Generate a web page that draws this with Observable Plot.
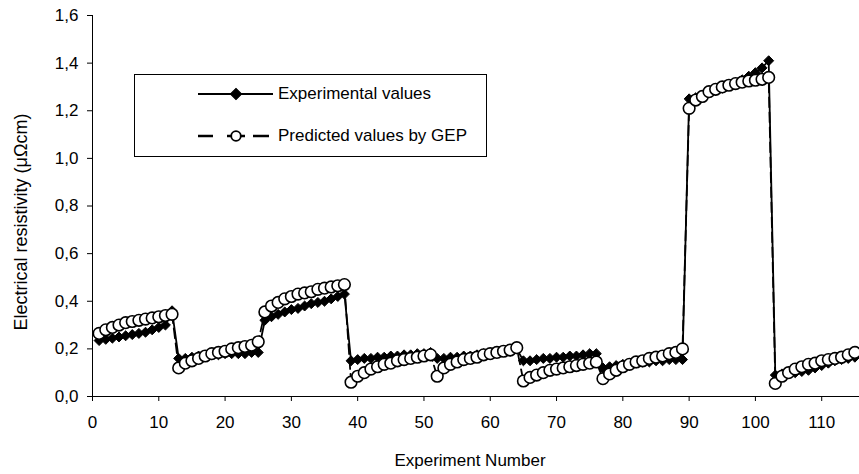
<!DOCTYPE html>
<html><head><meta charset="utf-8">
<script src="https://cdn.jsdelivr.net/npm/d3@7"></script>
<script src="https://cdn.jsdelivr.net/npm/@observablehq/plot@0.6"></script>
<style>body{margin:0;background:#fff;} svg{display:block}</style>
</head><body><div id="chart"></div>
<script>
const experimentNumbers = d3.range(1, 116);
const experimental = [
  0.235, 0.24, 0.245, 0.25, 0.255, 0.26, 0.265, 0.27, 0.28, 0.29, 0.30, 0.36,
  0.16, 0.16, 0.165, 0.17, 0.17, 0.175, 0.175, 0.18, 0.18, 0.18, 0.18, 0.185, 0.185,
  0.32, 0.335, 0.345, 0.355, 0.365, 0.37, 0.38, 0.39, 0.395, 0.40, 0.41, 0.42, 0.43,
  0.15, 0.155, 0.16, 0.16, 0.165, 0.165, 0.17, 0.17, 0.175, 0.175, 0.18, 0.18, 0.185,
  0.16, 0.16, 0.165, 0.165, 0.17, 0.17, 0.175, 0.18, 0.18, 0.185, 0.19, 0.19, 0.20,
  0.15, 0.15, 0.155, 0.16, 0.16, 0.165, 0.165, 0.17, 0.17, 0.175, 0.18, 0.18,
  0.12, 0.125, 0.13, 0.135, 0.14, 0.14, 0.145, 0.145, 0.15, 0.15, 0.155, 0.155, 0.155,
  1.25, 1.255, 1.265, 1.275, 1.285, 1.295, 1.305, 1.315, 1.33, 1.345, 1.36, 1.38, 1.41,
  0.09, 0.095, 0.10, 0.10, 0.105, 0.11, 0.12, 0.13, 0.14, 0.15, 0.155, 0.16, 0.165
];
const predicted = [
  0.265, 0.28, 0.29, 0.30, 0.31, 0.315, 0.32, 0.325, 0.33, 0.335, 0.34, 0.345,
  0.12, 0.14, 0.15, 0.16, 0.17, 0.18, 0.185, 0.19, 0.20, 0.205, 0.21, 0.215, 0.23,
  0.355, 0.38, 0.395, 0.41, 0.42, 0.43, 0.435, 0.44, 0.45, 0.455, 0.46, 0.465, 0.47,
  0.06, 0.085, 0.10, 0.115, 0.125, 0.135, 0.14, 0.15, 0.155, 0.16, 0.165, 0.17, 0.175,
  0.085, 0.12, 0.135, 0.145, 0.155, 0.16, 0.165, 0.175, 0.18, 0.185, 0.19, 0.195, 0.205,
  0.065, 0.08, 0.09, 0.10, 0.11, 0.115, 0.12, 0.125, 0.13, 0.135, 0.14, 0.145,
  0.075, 0.095, 0.11, 0.125, 0.135, 0.145, 0.15, 0.16, 0.165, 0.17, 0.18, 0.185, 0.20,
  1.21, 1.245, 1.26, 1.28, 1.29, 1.30, 1.307, 1.314, 1.32, 1.325, 1.328, 1.332, 1.34,
  0.055, 0.085, 0.10, 0.115, 0.125, 0.135, 0.14, 0.15, 0.155, 0.16, 0.165, 0.175, 0.185
];
const xTicks = [0, 10, 20, 30, 40, 50, 60, 70, 80, 90, 100, 110];
const yTicks = [0, 0.2, 0.4, 0.6, 0.8, 1.0, 1.2, 1.4, 1.6];
const seriesNames = ["Experimental values", "Predicted values by GEP"];
const xLabel = "Experiment Number";
const yLabel = "Electrical resistivity (μΩcm)";

const expData = experimentNumbers.map((n, i) => ({n, v: experimental[i]}));
const predData = experimentNumbers.map((n, i) => ({n, v: predicted[i]}));
const fmt = d => d.toFixed(1).replace(".", ",");
const FONT = "'Liberation Sans', Arial, sans-serif";
const FS = 17;

const chart = Plot.plot({
  width: 859, height: 474,
  marginLeft: 92, marginRight: 0, marginTop: 15, marginBottom: 78,
  style: {fontFamily: FONT, fontSize: FS + "px", color: "#000", background: "#fff"},
  x: {domain: [0, 115.7]},
  y: {domain: [0, 1.6]},
  marks: [
    Plot.axisX({ticks: xTicks, tickSize: 5, tickPadding: 14, tickFormat: d => String(d), label: null}),
    Plot.axisY({ticks: yTicks, tickSize: 5, tickPadding: 9, tickFormat: fmt, label: null}),
    Plot.ruleY([0], {stroke: "#000"}),
    Plot.ruleX([0], {stroke: "#000"}),
    Plot.line(expData, {x: "n", y: "v", stroke: "#000", strokeWidth: 1.8}),
    Plot.dot(expData, {x: "n", y: "v", symbol: "diamond2", r: 4.5, fill: "#000", stroke: "#000", strokeWidth: 1}),
    Plot.line(predData, {x: "n", y: "v", stroke: "#000", strokeWidth: 1.8, strokeDasharray: "10,5"}),
    Plot.dot(predData, {x: "n", y: "v", r: 5.8, fill: "#fff", stroke: "#000", strokeWidth: 1.6})
  ]
});
document.getElementById("chart").appendChild(chart);

const svg = d3.select(chart);
const addText = (sel, fs = FS) => sel.attr("font-family", FONT).attr("font-size", fs).attr("fill", "#000").attr("dominant-baseline", "middle");
addText(svg.append("text").attr("x", 470).attr("y", 462).attr("text-anchor", "middle")).text(xLabel);
addText(svg.append("text").attr("transform", "translate(22,222) rotate(-90)").attr("text-anchor", "middle"), 18).text(yLabel);

// legend
const lg = svg.append("g");
lg.append("rect").attr("x", 134.5).attr("y", 74.5).attr("width", 352).attr("height", 82)
  .attr("fill", "#fff").attr("stroke", "#000").attr("stroke-width", 1);
// row 1
lg.append("line").attr("x1", 198).attr("x2", 273).attr("y1", 94).attr("y2", 94).attr("stroke", "#000").attr("stroke-width", 1.8);
lg.append("path").attr("d", d3.symbol().type(d3.symbolSquare).size(64)()).attr("transform", "translate(236,94) rotate(45)").attr("fill", "#000").attr("stroke", "#000");
addText(lg.append("text").attr("x", 278).attr("y", 95).attr("text-anchor", "start")).text(seriesNames[0]);
// row 2
lg.append("line").attr("x1", 198).attr("x2", 213).attr("y1", 136).attr("y2", 136).attr("stroke", "#000").attr("stroke-width", 2.5);
lg.append("line").attr("x1", 253).attr("x2", 269).attr("y1", 136).attr("y2", 136).attr("stroke", "#000").attr("stroke-width", 2.5);
lg.append("line").attr("x1", 227).attr("x2", 245).attr("y1", 136).attr("y2", 136).attr("stroke", "#000").attr("stroke-width", 2.5);
lg.append("circle").attr("cx", 236).attr("cy", 136).attr("r", 4.8).attr("fill", "#fff").attr("stroke", "#000").attr("stroke-width", 1.8);
addText(lg.append("text").attr("x", 278).attr("y", 137).attr("text-anchor", "start")).text(seriesNames[1]);
</script>
</body></html>
